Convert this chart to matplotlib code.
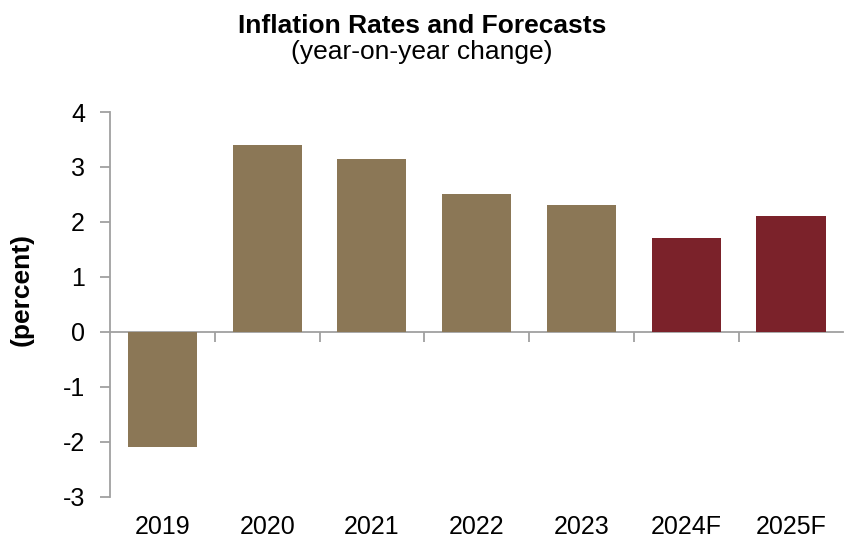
import matplotlib.pyplot as plt
import numpy as np

plt.rcParams['font.family'] = ['Liberation Sans', 'DejaVu Sans']
plt.rcParams['axes.unicode_minus'] = False

# data
years = ["2019", "2020", "2021", "2022", "2023", "2024F", "2025F"]
rates = [-2.09, 3.4, 3.14, 2.5, 2.31, 1.71, 2.11]
is_forecast = [False, False, False, False, False, True, True]

tan = "#8B7756"
red = "#7B222A"
grey = "#A0A0A0"

fig = plt.figure(figsize=(8.44, 5.39), dpi=100)
ax = fig.add_axes([0.1303, 0.078, 0.869, 0.7142])

x = np.arange(len(years))
colors = [red if f else tan for f in is_forecast]
ax.bar(x, rates, width=0.66, color=colors)

ax.set_xlim(-0.5, len(years) - 0.5)
ax.set_ylim(-3, 4)
ax.set_yticks(range(-3, 5))
ax.tick_params(axis='y', direction='out', length=7, width=1.3, color=grey,
               labelsize=18, pad=11)
ax.set_xticks(x)
ax.set_xticklabels(years)
ax.tick_params(axis='x', length=0, labelsize=18, pad=13)

for s in ['top', 'right', 'bottom']:
    ax.spines[s].set_visible(False)
ax.spines['left'].set_color(grey)
ax.spines['left'].set_linewidth(1.3)

# zero line with category boundary ticks
zero_axis = ax.secondary_xaxis(3 / 7)
zero_axis.set_xticks(np.arange(0.5, len(years) - 0.5, 1))
zero_axis.tick_params(direction='out', length=7, width=1.3, color=grey,
                      labelbottom=False, labeltop=False, bottom=True, top=False)
zero_axis.spines['bottom'].set_color(grey)
zero_axis.spines['bottom'].set_linewidth(1.3)
zero_axis.spines['top'].set_visible(False)

ax.set_ylabel("(percent)", fontsize=19, fontweight='bold')
ax.yaxis.set_label_coords(-0.104, 0.54)

fig.text(0.5, 0.952, "Inflation Rates and Forecasts", ha='center', va='center',
         fontsize=19, fontweight='bold')
fig.text(0.5, 0.904, "(year-on-year change)", ha='center', va='center',
         fontsize=19)

fig.savefig("out.png", dpi=100)
